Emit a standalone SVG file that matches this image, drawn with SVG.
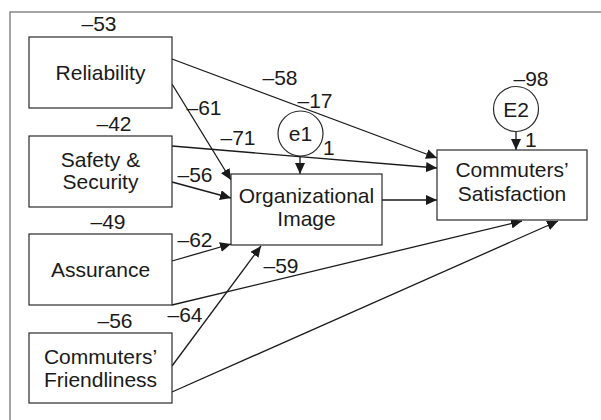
<svg xmlns="http://www.w3.org/2000/svg" width="601" height="420" viewBox="0 0 601 420">
<style>
text{font-family:"Liberation Sans",Arial,sans-serif;font-size:21px;fill:#1a1a1a;text-anchor:middle}
.lbl{text-anchor:start}
.box{fill:#fff;stroke:#2a2a2a;stroke-width:1.2}
.c{fill:none;stroke:#1a1a1a;stroke-width:1.3;marker-end:url(#ah)}
</style>
<defs>
<marker id="ah" markerUnits="userSpaceOnUse" markerWidth="12" markerHeight="10" refX="11" refY="5" orient="auto">
<path d="M0,0 L11,5 L0,10 z" fill="#1a1a1a"/>
</marker>
</defs>
<rect width="601" height="420" fill="#fff"/>
<path d="M10,420 V12 H601" fill="none" stroke="#888" stroke-width="1.5"/>
<g id="connectors">
<line class="c" x1="172" y1="59" x2="437" y2="158"/>
<line class="c" x1="172" y1="84" x2="231" y2="180"/>
<line class="c" x1="172" y1="146" x2="437" y2="168"/>
<line class="c" x1="172" y1="182" x2="231" y2="198"/>
<line class="c" x1="172" y1="261" x2="231" y2="244"/>
<line class="c" x1="172" y1="305" x2="522" y2="221"/>
<line class="c" x1="172" y1="366" x2="261" y2="246"/>
<line class="c" x1="172" y1="392" x2="558" y2="221"/>
<line class="c" x1="382" y1="200" x2="437" y2="200"/>
<line class="c" x1="300" y1="156" x2="300" y2="174"/>
<line class="c" x1="516" y1="132" x2="516" y2="150"/>
</g>
<g id="reliability">
<rect class="box" x="29" y="37" width="143" height="71"/>
<text x="100.5" y="80">Reliability</text>
<text x="99" y="31">–53</text>
</g>
<g id="safety">
<rect class="box" x="29" y="136" width="143" height="71"/>
<text x="100.5" y="167">Safety &amp;</text>
<text x="100.5" y="189">Security</text>
<text x="114" y="131">–42</text>
</g>
<g id="assurance">
<rect class="box" x="29" y="234" width="143" height="71"/>
<text x="100.5" y="277">Assurance</text>
<text x="108" y="229">–49</text>
</g>
<g id="friendliness">
<rect class="box" x="29" y="333" width="143" height="70"/>
<text x="100.5" y="364">Commuters’</text>
<text x="100.5" y="387">Friendliness</text>
<text x="115" y="328">–56</text>
</g>
<g id="org">
<rect class="box" x="231" y="174" width="151" height="71"/>
<text x="306.5" y="203">Organizational</text>
<text x="306.5" y="226">Image</text>
</g>
<g id="satisfaction">
<rect class="box" x="437" y="150" width="150" height="70"/>
<text x="512" y="177">Commuters’</text>
<text x="512" y="201">Satisfaction</text>
</g>
<g id="e1">
<circle class="box" cx="300.5" cy="133.5" r="22.5"/>
<text x="300.5" y="141">e1</text>
<text x="315" y="108">–17</text>
<text class="lbl" x="323" y="155">1</text>
</g>
<g id="E2">
<circle class="box" cx="516" cy="109" r="22.5"/>
<text x="516" y="117">E2</text>
<text x="531" y="86">–98</text>
<text class="lbl" x="525" y="147">1</text>
</g>
<g id="labels">
<text x="280" y="85">–58</text>
<text x="204" y="115">–61</text>
<text x="238" y="145">–71</text>
<text x="195" y="182">–56</text>
<text x="195" y="247">–62</text>
<text x="281" y="273">–59</text>
<text x="185" y="322">–64</text>
</g>
</svg>
